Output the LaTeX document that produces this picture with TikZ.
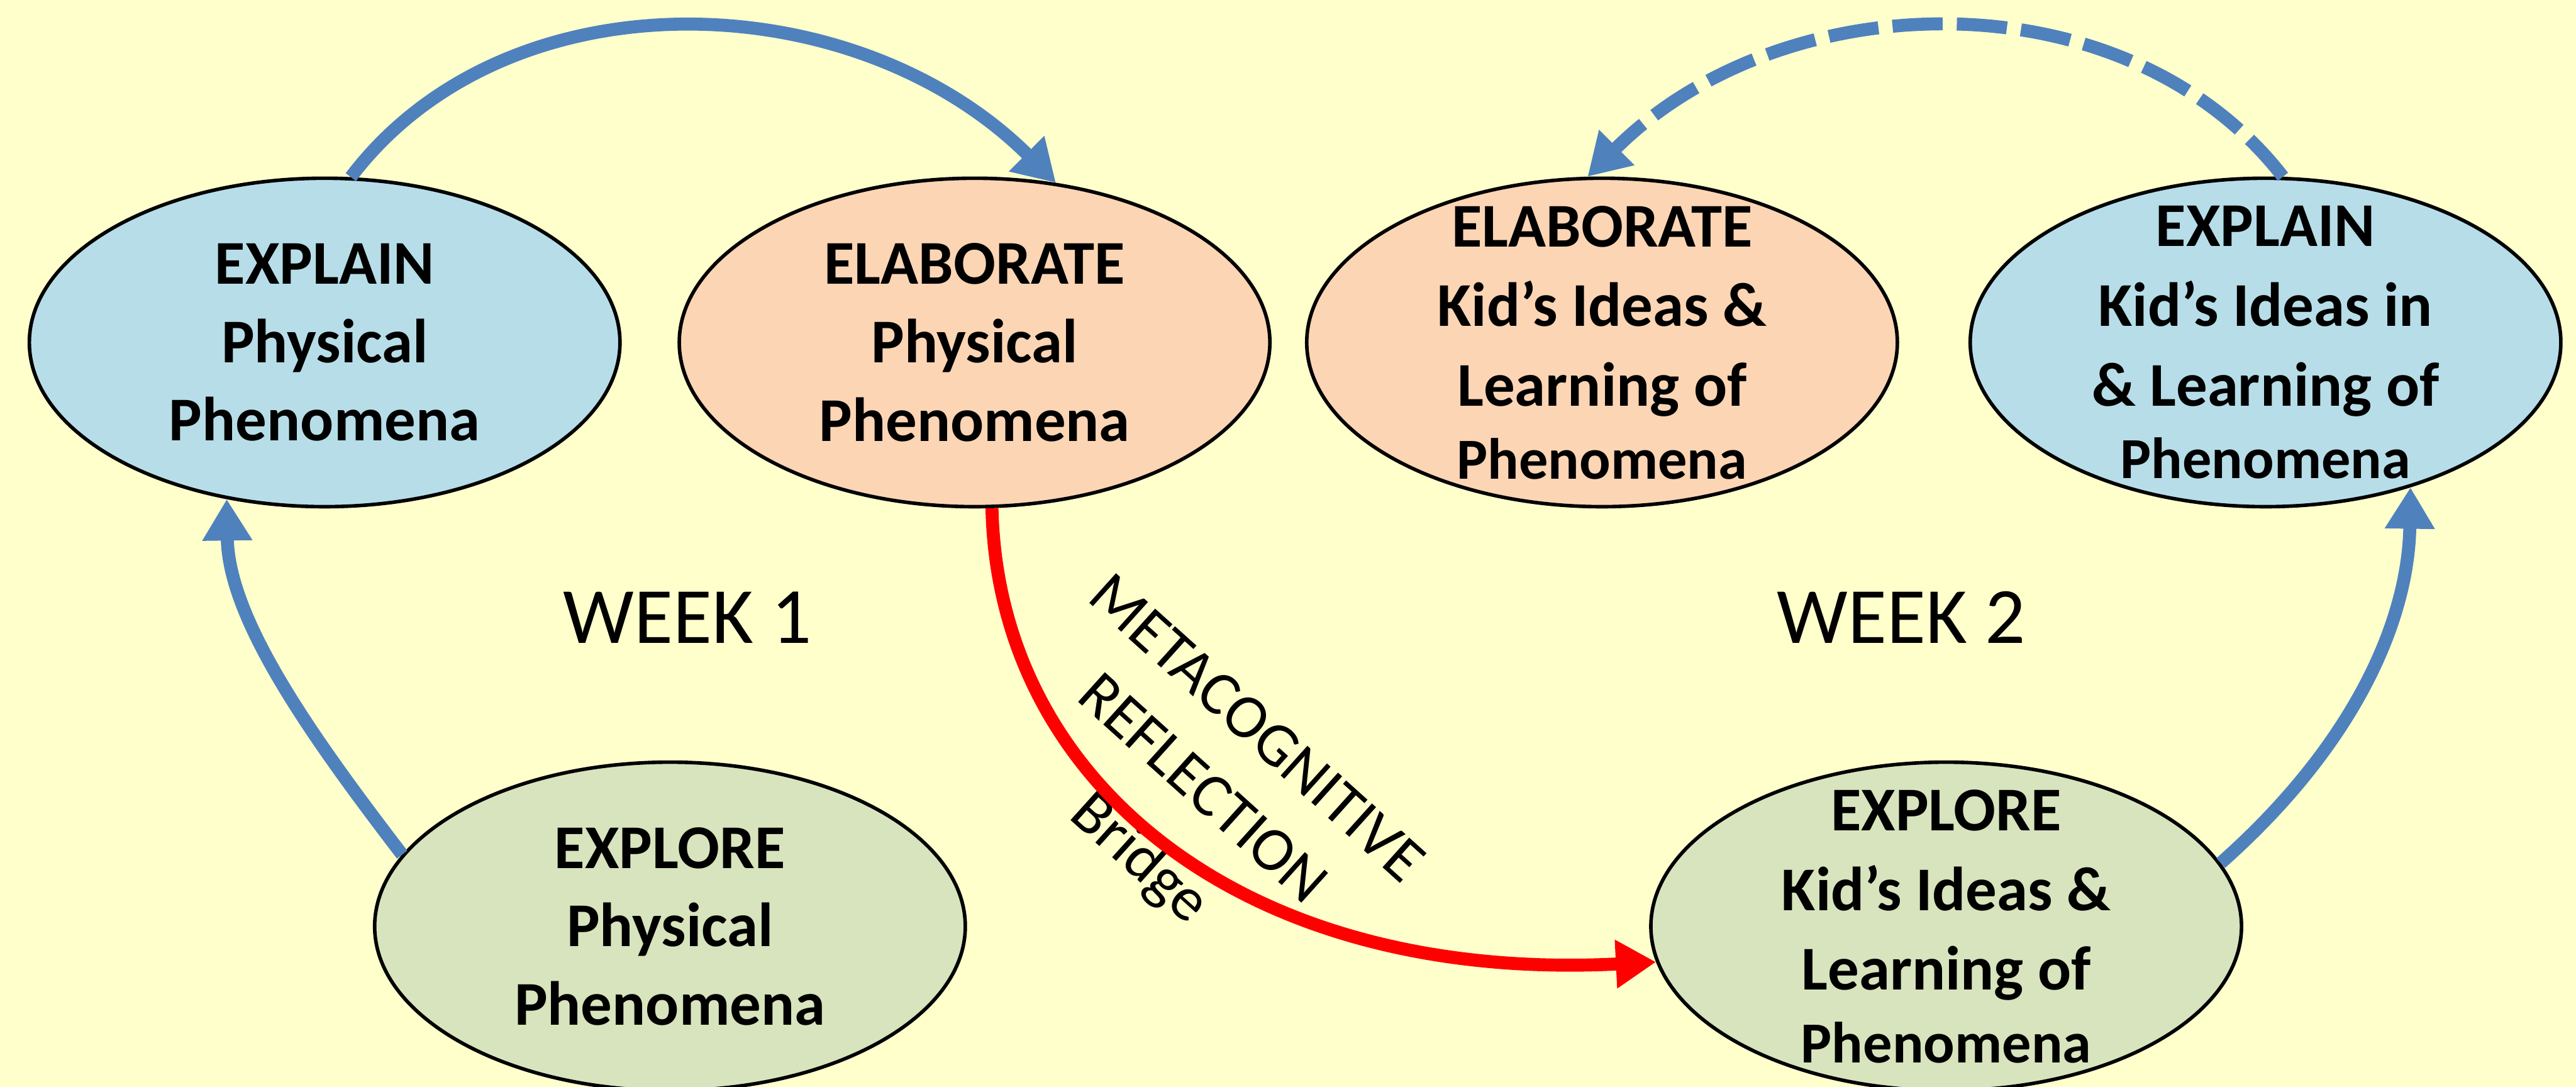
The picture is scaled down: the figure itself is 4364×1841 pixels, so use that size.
\documentclass[tikz,border=0pt]{standalone}
\usepackage{fontspec}
\setmainfont{Carlito}
\usetikzlibrary{arrows.meta,shapes.geometric}
\definecolor{bgyellow}{HTML}{FFFFCC}
\definecolor{ovblue}{HTML}{B7DEE8}
\definecolor{ovpeach}{HTML}{FCD5B5}
\definecolor{ovgreen}{HTML}{D7E4BD}
\definecolor{arrblue}{HTML}{4F81BD}
\definecolor{arrred}{HTML}{FF0000}
\begin{document}
\begin{tikzpicture}[x=0.01cm,y=-0.01cm,
  oval/.style={ellipse, draw=black, line width=0.06cm, minimum width=10cm,
    minimum height=5.56cm, inner xsep=0pt, inner ysep=-0.6cm, align=center,
    font=\bfseries\fontsize{30}{37.8}\selectfont},
  ovalfour/.style={oval, font=\bfseries\fontsize{30}{38.4}\selectfont},
  weeklabel/.style={anchor=base, inner sep=0pt, font=\fontsize{38.4}{46}\selectfont},
  bridgelabel/.style={rotate=-42, align=center, inner sep=0pt,
    font=\fontsize{30}{39}\selectfont},
  bluearrow/.style={draw=arrblue, line width=0.22cm,
    -{Triangle[length=0.7cm,width=0.8cm]}},
  dashedarrow/.style={bluearrow, dash pattern=on 0.85cm off 0.24cm},
  redarrow/.style={draw=arrred, line width=0.22cm,
    -{Triangle[length=0.68cm,width=0.78cm]}}
]
\fill[bgyellow] (0,0) rectangle (4364,1841);
\useasboundingbox (0,0) rectangle (4364,1841);

\node[oval, fill=ovblue]  (ex1) at (550,580)  {EXPLAIN\\Physical\\Phenomena};
\node[oval, fill=ovpeach] (el1) at (1651,580) {ELABORATE\\Physical\\Phenomena};
\node[ovalfour, fill=ovpeach] (el2) at (2714,580)
  {ELABORATE\\Kid’s Ideas \&\\Learning of\\[-0.12cm]{\fontsize{28}{34}\selectfont Phenomena}};
\node[ovalfour, fill=ovblue] (ex2) at (3838,580)
  {EXPLAIN\\Kid’s Ideas in\\\& Learning of\\[-0.12cm]{\fontsize{28}{34}\selectfont Phenomena}};
\node[oval, fill=ovgreen] (xp1) at (1135,1569) {EXPLORE\\Physical\\Phenomena};
\node[ovalfour, fill=ovgreen] (xp2) at (3297,1569)
  {EXPLORE\\Kid’s Ideas \&\\Learning of\\[-0.12cm]{\fontsize{28}{34}\selectfont Phenomena}};

\node[weeklabel] (w1) at (1165,1089) {WEEK 1};
\node[weeklabel] (w2) at (3221,1089) {WEEK 2};

\node[bridgelabel] (br) at (2026,1348)
  {METACOGNITIVE\\REFLECTION\\[0.2cm]Bridge};

\draw[bluearrow] (ex1.81) .. controls (860,-50) and (1448,-29) .. (el1.63);
\draw[dashedarrow] (ex2.84) .. controls (3600,-45) and (3020,-31) .. (el2.95);
\draw[bluearrow] (xp1.165) .. controls (530,1250) and (387,1050) .. (ex1.238);
\draw[bluearrow] (xp2.13) .. controls (3990,1260) and (4080,1050) .. (ex2.315);
\draw[redarrow] (el1.276) .. controls (1690,1320) and (2100,1665) .. (xp2.187);
\end{tikzpicture}
\end{document}
